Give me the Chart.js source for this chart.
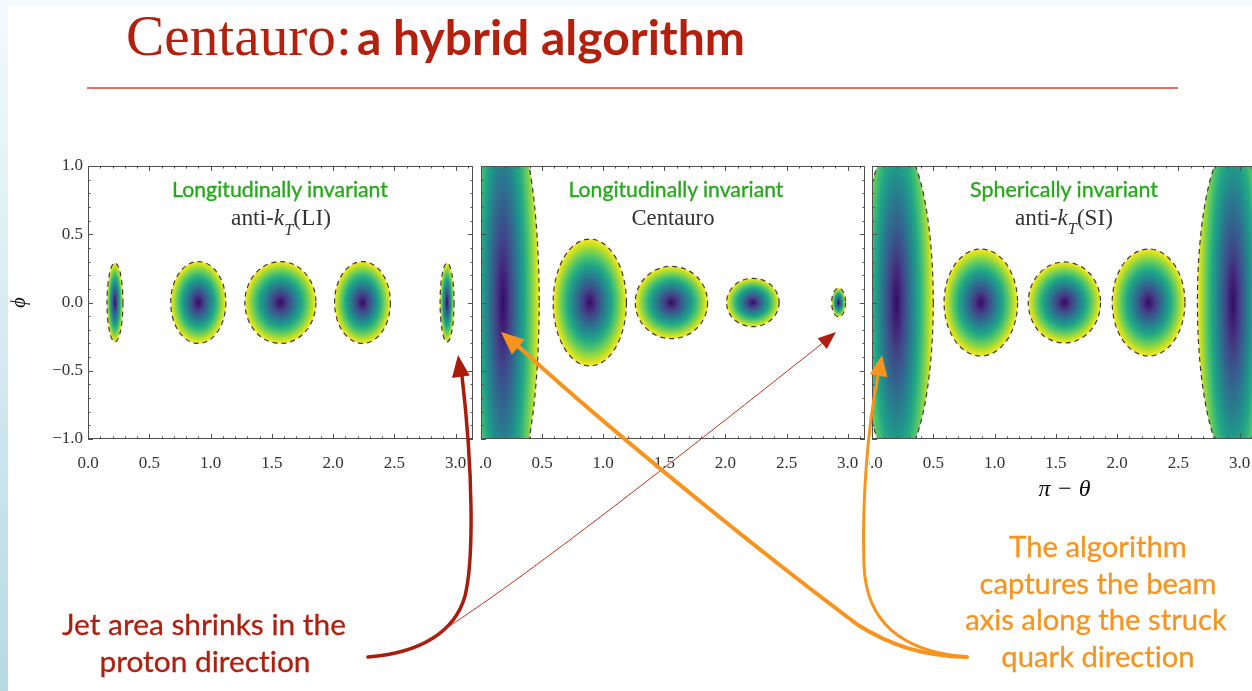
<!DOCTYPE html>
<html>
<head>
<meta charset="utf-8">
<script src="https://cdn.jsdelivr.net/npm/chart.js"></script>
<style>
html,body{margin:0;padding:0;width:1252px;height:691px;overflow:hidden;background:#fff;position:relative}
.strip{position:absolute;left:0;top:0;width:8px;height:691px;background:linear-gradient(#f3fbfd,#b6dae4);z-index:5}
.topband{position:absolute;left:0;top:0;width:1252px;height:6px;background:#f3fbfc;z-index:5}
canvas{position:absolute;top:150px;background:#fff}
#c1{left:0;z-index:3}
#c2{left:467px;z-index:2}
#c3{left:858px;z-index:1}
svg{position:absolute;left:0;top:0;z-index:10;pointer-events:none}
svg text{font-variant-ligatures:none}
</style>
</head>
<body>
<div class="topband"></div>
<div class="strip"></div>
<canvas id="c1" width="480" height="360"></canvas>
<canvas id="c2" width="402" height="360"></canvas>
<canvas id="c3" width="402" height="360"></canvas>

<svg id="ov" width="1252" height="691" xmlns="http://www.w3.org/2000/svg">
  <!-- title -->
  <text class="fit" data-w="226" x="126" y="55" font-family="Liberation Serif" font-size="52" fill="#b3200e">Centauro:</text>
  <text class="fit" data-w="388" x="357" y="55" font-family="Lato" font-weight="700" font-size="40" fill="#b3200e">a hybrid algorithm</text>
  <line x1="87" y1="88" x2="1178" y2="88" stroke="#d9402a" stroke-width="1.4"/>

  <!-- panel labels -->
  <g stroke-width="0.35">
  <text class="fit" data-w="216" x="280" y="197" text-anchor="middle" font-family="Lato" font-size="20" fill="#27a81c" stroke="#27a81c">Longitudinally invariant</text>
  <text class="fit" data-w="215" x="676" y="197" text-anchor="middle" font-family="Lato" font-size="20" fill="#27a81c" stroke="#27a81c">Longitudinally invariant</text>
  <text class="fit" data-w="188" x="1064" y="197" text-anchor="middle" font-family="Lato" font-size="20" fill="#27a81c" stroke="#27a81c">Spherically invariant</text>
  </g>
  <text class="fit" data-w="100" x="281" y="225" text-anchor="middle" font-family="Liberation Serif" font-size="19" fill="#333">anti-<tspan font-style="italic">k</tspan><tspan font-style="italic" font-size="70%" baseline-shift="sub">T</tspan>(LI)</text>
  <text class="fit" data-w="83" x="673" y="225" text-anchor="middle" font-family="Liberation Serif" font-size="19" fill="#333">Centauro</text>
  <text class="fit" data-w="98" x="1064" y="225" text-anchor="middle" font-family="Liberation Serif" font-size="19" fill="#333">anti-<tspan font-style="italic">k</tspan><tspan font-style="italic" font-size="70%" baseline-shift="sub">T</tspan>(SI)</text>

  <!-- annotations -->
  <g id="leftNote" font-family="Lato" font-size="26" fill="#b01e0e" stroke="#b01e0e" stroke-width="0.3" text-anchor="middle">
    <text data-w="282" x="204" y="635">Jet area shrinks in the</text>
    <text data-w="213" x="205" y="672">proton direction</text>
  </g>
  <g id="rightNote" font-family="Lato" font-size="26" fill="#f7941e" stroke="#f7941e" stroke-width="0.3" text-anchor="middle">
    <text data-w="177" x="1098" y="557">The algorithm</text>
    <text data-w="233" x="1098" y="594">captures the beam</text>
    <text data-w="265" x="1096" y="630">axis along the struck</text>
    <text data-w="195" x="1098" y="667">quark direction</text>
  </g>

  <!-- arrows -->
  <g fill="none" stroke-linecap="round">
    <path d="M368,657 C420,653 455,632 465,596 C474,560 473,470 462,376" stroke="#a91c0b" stroke-width="3.5"/>
    <path d="M421,644 C500,597 650,480 824,342" stroke="#c0301c" stroke-width="1"/>
    <path d="M967,657 C922,656 890,645 858,625 C760,552 600,422 516,344" stroke="#f7941e" stroke-width="4"/>
    <path d="M967,657 C905,652 866,625 864,565 C862,505 867,430 878,376" stroke="#f7941e" stroke-width="3"/>
  </g>
  <g id="heads"></g>
</svg>

<script>
// ---------------- data ----------------
const xTickValues = [0, 0.5, 1.0, 1.5, 2.0, 2.5, 3.0];
const xTickLabels = ['0.0', '0.5', '1.0', '1.5', '2.0', '2.5', '3.0'];
const yTickValues = [-1, -0.5, 0, 0.5, 1];
const yTickLabels = ['\u22121.0', '\u22120.5', '0.0', '0.5', '1.0'];
const xRange = [0, Math.PI];
const yRange = [-1, 1];

// anti-kT (LI): jet centres (π−θ, φ) and half extents
const liJetX     = [0.22, 0.90, 1.57, 2.24, 2.93];
const liJetPhi   = [0, 0, 0, 0, 0];
const liJetHalfW = [0.065, 0.225, 0.29, 0.228, 0.057];
const liJetHalfH = [0.29, 0.30, 0.30, 0.30, 0.29];

// Centauro
const cBeamX     = [0.18];
const cBeamPhi   = [0];
const cBeamHalfW = [0.296];
const cBeamHalfH = [1.45];
const cJetX      = [0.89, 1.558, 2.224, 2.926];
const cJetPhi    = [0, 0, 0, 0];
const cJetHalfW  = [0.30, 0.296, 0.215, 0.057];
const cJetHalfH  = [0.465, 0.265, 0.177, 0.106];

// anti-kT (SI)
const siBeamX     = [0.20, 2.945];
const siBeamPhi   = [0, 0];
const siBeamHalfW = [0.30, 0.29];
const siBeamHalfH = [1.17, 1.17];
const siJetX      = [0.888, 1.57, 2.257];
const siJetPhi    = [0, 0, 0];
const siJetHalfW  = [0.30, 0.295, 0.297];
const siJetHalfH  = [0.392, 0.297, 0.392];

const viridis = ['#2e0f66', '#43237a', '#414487', '#355f8d', '#2a788e', '#21918c', '#22a884', '#44bf70', '#7ad151', '#bddf26', '#fde725'];

function pts(xs, ys, ws, hs) {
  return xs.map((x, i) => ({ x: x, y: ys[i], rx: ws[i], ry: hs[i] }));
}

// ---------------- plugins ----------------
const blobPlugin = {
  id: 'blobs',
  beforeDatasetsDraw(chart) {
    const { ctx, chartArea: a, scales: { x, y } } = chart;
    ctx.save();
    ctx.beginPath();
    ctx.rect(a.left, a.top, a.right - a.left, a.bottom - a.top);
    ctx.clip();
    chart.data.datasets.forEach(ds => {
      const k = ds.gradStretch || 1;
      ds.data.forEach(p => {
        const cx = x.getPixelForValue(p.x), cy = y.getPixelForValue(p.y);
        const rx = Math.abs(x.getPixelForValue(p.x + p.rx) - cx);
        const ry = Math.abs(y.getPixelForValue(p.y + p.ry) - cy);
        ctx.save();
        ctx.beginPath();
        ctx.ellipse(cx, cy, rx, ry, 0, 0, Math.PI * 2);
        ctx.clip();
        ctx.translate(cx, cy);
        ctx.scale(rx, ry * k);
        const g = ctx.createRadialGradient(0, 0, 0, 0, 0, 1);
        viridis.forEach((c, i) => g.addColorStop(i / (viridis.length - 1), c));
        ctx.fillStyle = g;
        ctx.fillRect(-1.2, -1.2, 2.4, 2.4);
        ctx.restore();
        ctx.save();
        ctx.beginPath();
        ctx.ellipse(cx, cy, rx, ry, 0, 0, Math.PI * 2);
        ctx.setLineDash([5, 4]);
        ctx.lineWidth = 1.2;
        ctx.strokeStyle = '#3a3a3a';
        ctx.stroke();
        ctx.restore();
      });
    });
    ctx.restore();
  }
};

const framePlugin = {
  id: 'frame',
  afterDraw(chart) {
    const { ctx, chartArea: a, scales: { x, y } } = chart;
    ctx.save();
    ctx.strokeStyle = '#505050';
    ctx.lineWidth = 1;
    ctx.strokeRect(a.left + 0.5, a.top + 0.5, a.right - a.left - 1, a.bottom - a.top - 1);
    const line = (x1, y1, x2, y2) => { ctx.beginPath(); ctx.moveTo(x1, y1); ctx.lineTo(x2, y2); ctx.stroke(); };
    for (let i = 0; i <= 31; i++) {
      const v = i / 10;
      const major = i % 5 === 0;
      const len = major ? 5 : 2.5;
      const px = Math.round(x.getPixelForValue(v)) + 0.5;
      line(px, a.bottom, px, a.bottom - len);
      line(px, a.top, px, a.top + len);
    }
    for (let i = -10; i <= 10; i++) {
      const v = i / 10;
      const major = i % 5 === 0;
      const len = major ? 5 : 2.5;
      const py = Math.round(y.getPixelForValue(v)) + 0.5;
      line(a.left, py, a.left + len, py);
      line(a.right, py, a.right - len, py);
    }
    ctx.restore();
  }
};

const tickFont = { family: 'Liberation Serif', size: 17 };

function makeChart(id, datasets, cfg) {
  return new Chart(document.getElementById(id), {
    type: 'scatter',
    data: { datasets: datasets },
    options: {
      responsive: false,
      animation: false,
      events: [],
      layout: { padding: cfg.padding },
      elements: { point: { radius: 0 } },
      plugins: { legend: { display: false }, tooltip: { enabled: false } },
      scales: {
        x: {
          type: 'linear', min: xRange[0], max: xRange[1],
          grid: { display: false, drawTicks: true, tickLength: 12 },
          border: { display: false },
          afterBuildTicks: s => { s.ticks = xTickValues.map(v => ({ value: v })); },
          afterFit: s => { s.height = 70; },
          ticks: { padding: 2, font: tickFont, color: '#333', maxRotation: 0, autoSkip: false,
                   callback: (v, i) => xTickLabels[i] },
          title: { display: !!cfg.xTitle, text: 'π − θ',
                   font: { family: 'Liberation Serif', size: 24, style: 'italic' },
                   color: '#111', padding: { top: 0, bottom: 5 } }
        },
        y: {
          type: 'linear', min: yRange[0], max: yRange[1],
          display: !!cfg.yAxis,
          grid: { display: false, drawTicks: false },
          border: { display: false },
          afterBuildTicks: s => { s.ticks = yTickValues.map(v => ({ value: v })); },
          afterFit: s => { s.width = cfg.yAxis ? 88 : 0; },
          ticks: { padding: 5, font: tickFont, color: '#333', callback: (v, i) => yTickLabels[i] },
          title: { display: !!cfg.yAxis, text: 'ϕ',
                   font: { family: 'Liberation Serif', size: 20, style: 'italic' },
                   color: '#111', padding: { top: 8, bottom: 0 } }
        }
      }
    },
    plugins: [blobPlugin, framePlugin]
  });
}

makeChart('c1', [
  { label: 'jets', data: pts(liJetX, liJetPhi, liJetHalfW, liJetHalfH) }
], { padding: { left: 0, right: 7, top: 16, bottom: 1 }, yAxis: true });

makeChart('c2', [
  { label: 'beam', gradStretch: 1.6, data: pts(cBeamX, cBeamPhi, cBeamHalfW, cBeamHalfH) },
  { label: 'jets', data: pts(cJetX, cJetPhi, cJetHalfW, cJetHalfH) }
], { padding: { left: 14, right: 4, top: 16, bottom: 1 } });

makeChart('c3', [
  { label: 'beam', gradStretch: 1.6, data: pts(siBeamX, siBeamPhi, siBeamHalfW, siBeamHalfH) },
  { label: 'jets', data: pts(siJetX, siJetPhi, siJetHalfW, siJetHalfH) }
], { padding: { left: 14, right: 3, top: 16, bottom: 1 }, xTitle: true });

// ---------------- overlay text fitting & arrowheads ----------------
document.querySelectorAll('text.fit').forEach(el => {
  const fs = parseFloat(el.getAttribute('font-size'));
  const len = el.getComputedTextLength();
  if (len > 0) el.setAttribute('font-size', (fs * (+el.dataset.w) / len).toFixed(2));
});
['leftNote', 'rightNote'].forEach(id => {
  const g = document.getElementById(id);
  const fs = parseFloat(g.getAttribute('font-size'));
  let tw = 0, aw = 0;
  g.querySelectorAll('text').forEach(t => { tw += +t.dataset.w; aw += t.getComputedTextLength(); });
  if (aw > 0) g.setAttribute('font-size', (fs * tw / aw).toFixed(2));
});

function head(tx, ty, fx, fy, len, hw, color) {
  const dx = tx - fx, dy = ty - fy, d = Math.hypot(dx, dy);
  const ux = dx / d, uy = dy / d;
  const bx = tx - ux * len, by = ty - uy * len;
  const px = -uy, py = ux;
  const p = document.createElementNS('http://www.w3.org/2000/svg', 'polygon');
  p.setAttribute('points', [tx, ty, bx + px * hw, by + py * hw, bx - px * hw, by - py * hw].map(v => v.toFixed(1)).join(' '));
  p.setAttribute('fill', color);
  document.getElementById('heads').appendChild(p);
}
head(458, 355, 462, 385, 22, 9, '#a91c0b');
head(836, 332, 823, 343, 18, 7, '#b01e0e');
head(501, 332, 530, 357, 23, 10, '#f7941e');
head(882, 355, 877, 385, 21, 9, '#f7941e');
</script>
</body>
</html>
